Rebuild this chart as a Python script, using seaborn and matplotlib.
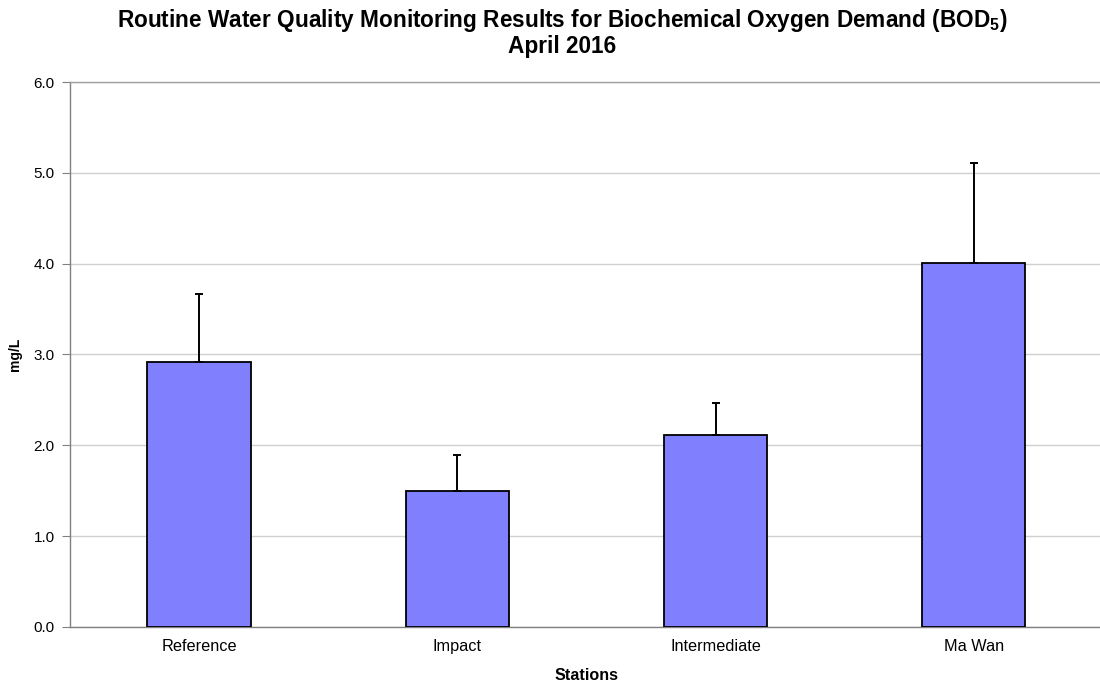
import numpy as np
import pandas as pd
import matplotlib
matplotlib.use("Agg")
import matplotlib.pyplot as plt
import seaborn as sns

stations = ["Reference", "Impact", "Intermediate", "Ma Wan"]
bod_mean = [2.92, 1.50, 2.11, 4.01]
bod_sd = [0.75, 0.39, 0.36, 1.10]

sns.set_style("white")
plt.rcParams['font.family'] = ['Liberation Sans', 'DejaVu Sans']
plt.rcParams['mathtext.default'] = 'regular'
plt.rcParams['text.color'] = 'black'
plt.rcParams['axes.labelcolor'] = 'black'

df = pd.DataFrame({"Station": stations, "BOD": bod_mean})

fig = plt.figure(figsize=(11, 6.88), dpi=100)
ax = fig.add_axes([0.0636, 0.0887, 0.9391, 0.7921])

sns.barplot(data=df, x="Station", y="BOD", color="#8080ff", saturation=1,
            width=0.40, edgecolor="black", linewidth=1.3, ax=ax, zorder=3)
x = np.arange(len(stations))
ax.errorbar(x, bod_mean, yerr=[np.zeros(len(bod_sd)), bod_sd], fmt="none",
            ecolor="black", elinewidth=1.4, capsize=2.6, capthick=1.4, zorder=4)

ax.set_ylim(0, 6)
ax.set_xlim(-0.5, 3.5)
ax.set_yticks(np.arange(0, 6.01, 1.0))
ax.set_yticklabels([f"{v:.1f}" for v in np.arange(0, 6.01, 1.0)], fontsize=11)
ax.yaxis.grid(True, color="#d0d0d0", linewidth=1.0, zorder=0)
ax.set_axisbelow(True)

# ticks on category boundaries
ax.set_xticks(x)
ax.set_xticklabels(stations, fontsize=11.7)
ax.tick_params(axis="x", which="major", length=0, pad=9, labelcolor="black")
ax.set_xticks(np.arange(-0.5, 4.0, 1.0), minor=True)
ax.tick_params(axis="x", which="minor", length=5, color="#808080", direction="out")
ax.tick_params(axis="y", length=6, color="#808080", direction="out", left=True, pad=5,
               labelcolor="black")

ax.spines["right"].set_visible(False)
ax.spines["top"].set_color("#a0a0a0")
ax.spines["left"].set_color("#808080")
ax.spines["bottom"].set_color("#808080")
for s in ["top", "left", "bottom"]:
    ax.spines[s].set_linewidth(1.0)

ax.set_xlabel("Stations", fontsize=11.6, fontweight="bold", labelpad=10)
ax.set_ylabel("mg/L", fontsize=10, fontweight="bold", labelpad=8)

fig.suptitle("Routine Water Quality Monitoring Results for Biochemical Oxygen Demand (BOD$_5$)\nApril 2016",
             fontsize=16.3, fontweight="bold", y=0.99, x=0.511, linespacing=1.05)

fig.savefig("out.png", dpi=100)
